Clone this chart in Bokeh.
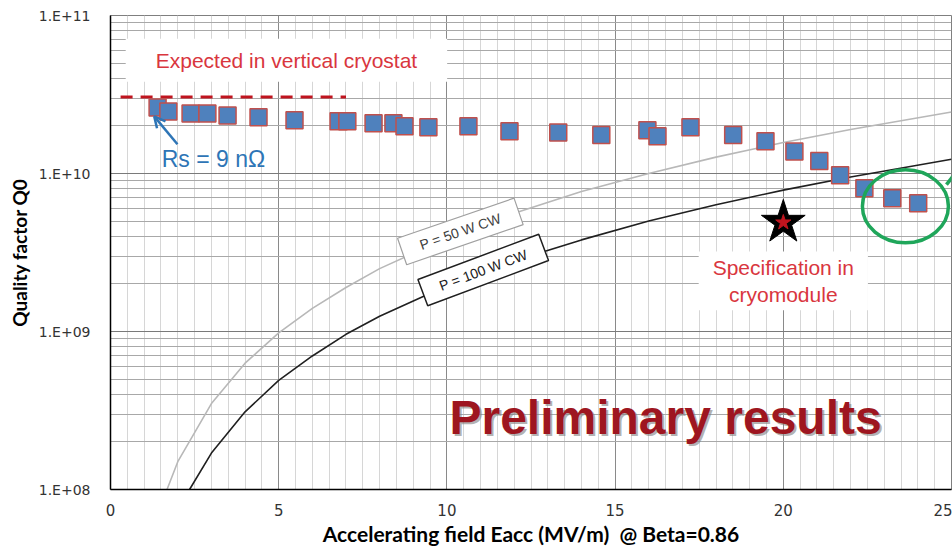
from bokeh.plotting import figure
from bokeh.models import FixedTicker, CustomJSTickFormatter, Label, Arrow, OpenHead
from bokeh.embed import file_html
from bokeh.resources import INLINE

# ---- data ----
eacc = [1.40, 1.72, 2.38, 2.88, 3.48, 4.40, 5.47, 6.78, 7.04, 7.82, 8.41, 8.74,
        9.45, 10.64, 11.86, 13.31, 14.59, 15.96, 16.26, 17.24, 18.51, 19.47,
        20.33, 21.07, 21.69, 22.41, 23.24, 24.01]
q0 = [2.62e10, 2.47e10, 2.40e10, 2.40e10, 2.33e10, 2.27e10, 2.17e10, 2.14e10,
      2.14e10, 2.08e10, 2.08e10, 1.99e10, 1.96e10, 1.99e10, 1.85e10, 1.82e10,
      1.75e10, 1.88e10, 1.72e10, 1.96e10, 1.75e10, 1.60e10, 1.38e10, 1.20e10,
      9.76e9, 8.07e9, 6.98e9, 6.49e9]

p100_x = [2.35, 3, 4, 5, 6, 7, 8, 10, 12, 14, 16, 18, 20, 22, 25]
p100_q = [1.0e8, 1.7e8, 3.1e8, 4.9e8, 7.0e8, 9.6e8, 1.25e9, 1.95e9, 2.8e9,
          3.8e9, 5.0e9, 6.35e9, 7.85e9, 9.5e9, 1.23e10]
p50_x = [1.68, 2, 3, 4, 5, 6, 7, 8, 10, 12, 14, 16, 18, 20, 22, 25]
p50_q = [1.0e8, 1.5e8, 3.5e8, 6.3e8, 9.8e8, 1.4e9, 1.9e9, 2.5e9, 3.9e9, 5.6e9,
         7.7e9, 1.0e10, 1.27e10, 1.57e10, 1.9e10, 2.45e10]

vert_x = [0.3, 7.0]
vert_q = [3.05e10, 3.05e10]
spec_x = [20.0]
spec_q = [4.9e9]
circle_x = [23.63]
circle_q = [6.2e9]

x_ticks = [0, 5, 10, 15, 20, 25]
x_minor = [0.5, 1, 1.5, 2, 2.5, 3, 3.5, 4, 4.5, 5.5, 6, 6.5, 7, 7.5, 8, 8.5, 9, 9.5,
           10.5, 11, 11.5, 12, 12.5, 13, 13.5, 14, 14.5, 15.5, 16, 16.5, 17, 17.5,
           18, 18.5, 19, 19.5, 20.5, 21, 21.5, 22, 22.5, 23, 23.5, 24, 24.5]
y_ticks = [1e8, 1e9, 1e10, 1e11]
y_minor = [m * d for d in (1e8, 1e9, 1e10) for m in (2, 3, 4, 5, 6, 7, 8, 9)]

p = figure(width=952, height=548, x_range=(0, 25), y_range=(1e8, 1e11),
           y_axis_type="log", output_backend="svg", toolbar_location=None,
           min_border_left=110, min_border_right=1, min_border_top=15,
           min_border_bottom=56, background_fill_color="white",
           border_fill_color="white")
p.outline_line_color = "#7f7f7f"

p.xaxis.ticker = FixedTicker(ticks=x_ticks, minor_ticks=x_minor)
p.yaxis.ticker = FixedTicker(ticks=y_ticks, minor_ticks=y_minor)
p.yaxis.formatter = CustomJSTickFormatter(
    code="const e = Math.round(Math.log10(tick)); return '1.E+' + (e < 10 ? '0' : '') + e;")

for ax in (p.xaxis[0], p.yaxis[0]):
    ax.major_tick_line_color = None
    ax.minor_tick_line_color = None
    ax.major_tick_out = 0
    ax.axis_line_color = "black"
    ax.axis_line_width = 1.5
    ax.major_label_text_font = "DejaVu Sans"
    ax.major_label_text_color = "#333333"
    ax.axis_label_text_font = "Lato"
    ax.axis_label_text_font_style = "bold"
    ax.axis_label_text_color = "black"

p.xaxis.major_label_text_font_size = "15px"
p.yaxis.major_label_text_font_size = "14px"
p.xaxis.axis_label = "Accelerating field Eacc (MV/m)\u00a0\u00a0@ Beta=0.86"
p.xaxis.axis_label_text_font_size = "21px"
p.xaxis.major_label_standoff = 10
p.xaxis.axis_label_standoff = 2
p.yaxis.axis_label = "Quality factor Q0"
p.yaxis.axis_label_text_font_size = "19px"
p.yaxis.major_label_standoff = 16
p.yaxis.axis_label_standoff = 5

p.xgrid.grid_line_color = "#8a8a8a"
p.xgrid.minor_grid_line_color = "#d6d6d6"
p.ygrid.grid_line_color = "#7a7a7a"
p.ygrid.minor_grid_line_color = "#a8a8a8"

# power curves
p.line(p50_x, p50_q, line_color="#b8b8b8", line_width=1.6)
p.line(p100_x, p100_q, line_color="#202020", line_width=1.6)

# expected line
p.line(vert_x, vert_q, line_color="#c0141e", line_width=3, line_dash="12 8")

# data
p.scatter(eacc, q0, marker="square", size=17, fill_color="#4f81bd",
          line_color="#c0504d", line_width=1.5)

# spec star
p.scatter(spec_x, spec_q, marker="star", size=46, fill_color="black", line_color="black")
p.scatter(spec_x, spec_q, marker="star", size=16, fill_color="#c0141e", line_color="#c0141e")

# green circle
p.ellipse(circle_x, circle_q, width=86, height=73, width_units="screen",
          height_units="screen", fill_color=None, line_color="#1fa65a", line_width=3.5)
p.line([24.85, 25.4], [8.5e9, 1.2e10], line_color="#1fa65a", line_width=3.5)

# labels
p.add_layout(Label(x=5.23, y=5.2e10, text="Expected in vertical cryostat",
                   text_align="center", text_baseline="middle", text_color="#d9363e",
                   text_font="Liberation Sans", text_font_size="21px",
                   background_fill_color="white",
                   padding=dict(left=30, right=30, top=10, bottom=10)))

p.add_layout(Label(x=3.06, y=1.23e10, text="Rs = 9 n\u03a9", text_align="center",
                   text_baseline="middle", text_color="#2e75b6",
                   text_font="Liberation Sans", text_font_size="23px"))
p.add_layout(Arrow(end=OpenHead(size=11, line_color="#2e75b6", line_width=2.5),
                   x_start=1.99, y_start=1.53e10, x_end=1.3, y_end=2.3e10,
                   line_color="#2e75b6", line_width=2.5))

p.add_layout(Label(x=10.4, y=4.3e9, text="P = 50 W CW", angle=19, angle_units="deg",
                   text_align="center", text_baseline="middle", text_color="#404040",
                   text_font="Liberation Sans", text_font_size="14px",
                   background_fill_color="white", border_line_color="#a0a0a0",
                   border_line_width=1.2,
                   padding=dict(left=19, right=19, top=6, bottom=6)))
p.add_layout(Label(x=11.08, y=2.45e9, text="P = 100 W CW", angle=20.5, angle_units="deg",
                   text_align="center", text_baseline="middle", text_color="#202020",
                   text_font="Liberation Sans", text_font_size="14px",
                   background_fill_color="white", border_line_color="#202020",
                   border_line_width=1.5,
                   padding=dict(left=18, right=18, top=6, bottom=6)))

p.add_layout(Label(x=20.0, y=2.09e9, text="Specification in\ncryomodule",
                   text_align="center", text_baseline="middle", text_color="#d9363e",
                   text_font="Liberation Sans", text_font_size="21px",
                   background_fill_color="white",
                   padding=dict(left=14, right=14, top=4, bottom=4)))

p.add_layout(Label(x=16.5, y=2.84e8, text="Preliminary results", x_offset=2, y_offset=-2,
                   text_align="center", text_baseline="middle", text_color="#808080",
                   text_alpha=0.6, text_font="Liberation Sans", text_font_style="bold",
                   text_font_size="48px"))
p.add_layout(Label(x=16.5, y=2.84e8, text="Preliminary results",
                   text_align="center", text_baseline="middle", text_color="#9e1620",
                   text_font="Liberation Sans", text_font_style="bold",
                   text_font_size="48px"))

open("out.html", "w").write(file_html(p, INLINE))
